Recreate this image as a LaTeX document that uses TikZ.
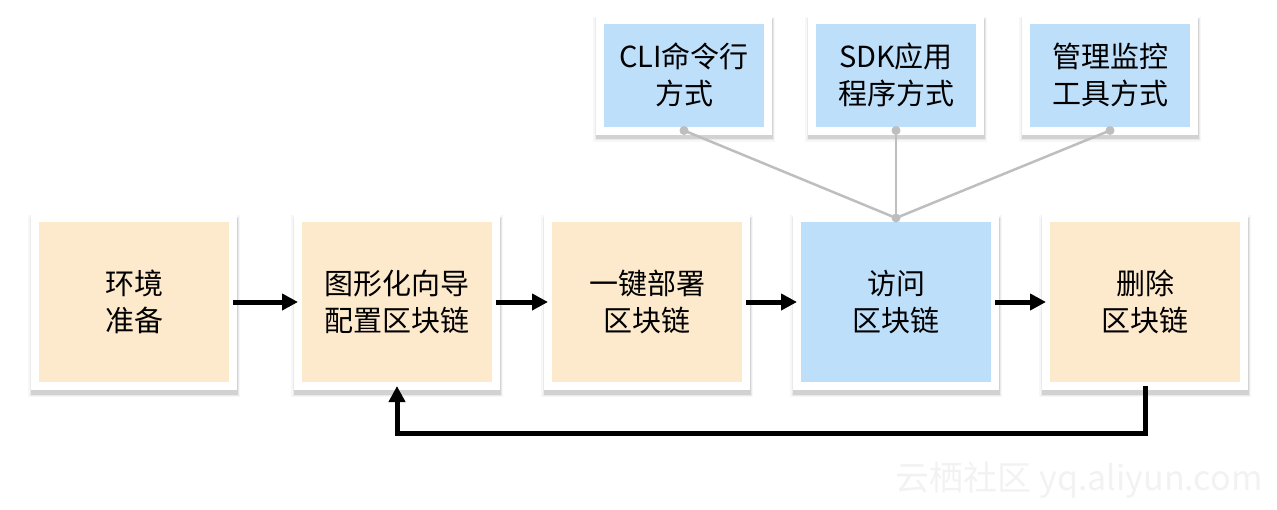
\documentclass[tikz,border=0pt]{standalone}
\usepackage{fontspec}
\newfontfamily\cjk{Noto Sans CJK SC}
\usetikzlibrary{arrows.meta}
\definecolor{peach}{HTML}{FDE9CC}
\definecolor{skyblue}{HTML}{BEDFFA}
\definecolor{linkgray}{HTML}{BEBEBE}

\begin{document}
\begin{tikzpicture}[x=1pt, y=-1pt, >={Triangle[length=16pt, width=16pt]},
    box/.style={draw=white, line width=8pt, minimum width=198pt, minimum height=168pt,
        inner sep=0pt, outer sep=0pt, align=center, font=\cjk\fontsize{29}{37}\selectfont,
        preaction={fill=black, draw=black, line width=14pt, opacity=.03, transform canvas={yshift=-4pt}},
        preaction={fill=black, draw=black, line width=11pt, opacity=.05, transform canvas={yshift=-4pt}},
        preaction={fill=black, draw=black, line width=9pt, opacity=.10, transform canvas={yshift=-4pt}}},
    way/.style={box, fill=skyblue, minimum width=168pt, minimum height=111pt}]
    \useasboundingbox (0,0) rectangle (1277,509);
    % main flow
    \node[box, fill=peach] (env) at (134,302) {环境\\准备};
    \node[box, fill=peach] (cfg) at (397,302) {图形化向导\\配置区块链};
    \node[box, fill=peach] (deploy) at (647,302) {一键部署\\区块链};
    \node[box, fill=skyblue] (access) at (896,302) {访问\\区块链};
    \node[box, fill=peach] (del) at (1145,302) {删除\\区块链};
    % access ways
    \node[way] (cli) at (684,75) {CLI命令行\\方式};
    \node[way] (sdk) at (896,75) {SDK应用\\程序方式};
    \node[way] (mgmt) at (1110,75) {管理监控\\工具方式};
    \foreach \w in {cli, sdk, mgmt} {
        \draw[linkgray, line width=2.5pt] (\w.south) -- (access.north);
        \fill[linkgray] (\w.south) circle (4.5pt);
    }
    \fill[linkgray] (access.north) circle (4.5pt);
    % arrows
    \draw[->, line width=5pt] (env) -- (cfg);
    \draw[->, line width=5pt] (cfg) -- (deploy);
    \draw[->, line width=5pt] (deploy) -- (access);
    \draw[->, line width=5pt] (access) -- (del);
    \draw[->, line width=5pt] (del.south) -- ++(0,47) -| (cfg.south);
    \node[text=black!5, font=\cjk\fontsize{34}{34}\selectfont, anchor=east] (mark) at (1266,480) {云栖社区 yq.aliyun.com};
\end{tikzpicture}
\end{document}
